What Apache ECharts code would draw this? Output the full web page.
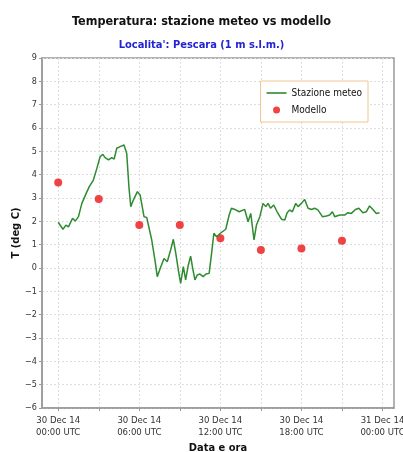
<!DOCTYPE html>
<html><head><meta charset="utf-8">
<script src="https://cdn.jsdelivr.net/npm/echarts@6/dist/echarts.min.js"></script>
<style>html,body{margin:0;padding:0;background:#fff}#c{width:403px;height:452px}</style>
</head><body><div id="c"></div>
<script>
// hours since 30 Dec 14 00:00 UTC
const stationHours = [0,0.35,0.57,0.76,1.06,1.26,1.5,1.75,2.07,2.3,2.6,2.86,3.1,3.3,3.47,3.72,3.96,4.14,4.33,4.58,4.7,4.87,5.07,5.24,5.37,5.56,5.86,6.06,6.35,6.55,6.92,7.16,7.33,7.58,7.83,8.07,8.32,8.52,8.72,8.89,9.06,9.26,9.43,9.63,9.8,9.95,10.12,10.29,10.49,10.73,10.93,11.17,11.35,11.52,11.72,12.0,12.4,12.65,12.82,13.07,13.39,13.8,14.05,14.25,14.49,14.67,14.92,15.16,15.36,15.53,15.71,15.95,16.2,16.52,16.77,16.94,17.13,17.33,17.58,17.75,18.0,18.24,18.49,18.74,18.98,19.22,19.55,19.85,20.09,20.29,20.46,20.83,21.2,21.44,21.69,22.0,22.25,22.55,22.8,23.04,23.29,23.54,23.78];
const stationTemp = [1.96,1.66,1.84,1.76,2.13,2.01,2.2,2.77,3.2,3.49,3.77,4.27,4.77,4.87,4.73,4.63,4.73,4.67,5.13,5.2,5.15,5.27,4.91,3.42,2.63,2.91,3.27,3.13,2.2,2.17,1.2,0.34,-0.37,0.03,0.41,0.27,0.77,1.23,0.56,-0.09,-0.66,0.06,-0.51,0.13,0.51,-0.01,-0.51,-0.3,-0.26,-0.37,-0.26,-0.23,0.63,1.49,1.34,1.49,1.66,2.27,2.56,2.51,2.41,2.51,1.98,2.34,1.2,1.84,2.2,2.77,2.63,2.77,2.56,2.7,2.41,2.09,2.06,2.37,2.49,2.41,2.77,2.63,2.77,2.94,2.56,2.51,2.56,2.49,2.2,2.23,2.27,2.41,2.2,2.27,2.27,2.37,2.34,2.51,2.56,2.37,2.41,2.66,2.51,2.34,2.37];
const modelHours = [0,3,6,9,12,15,18,21];
const modelTemp = [3.66,2.96,1.84,1.84,1.27,0.77,0.84,1.17];
const xLabelHours = [0,6,12,18,24];
const xLabels = ['30 Dec 14\n00:00 UTC','30 Dec 14\n06:00 UTC','30 Dec 14\n12:00 UTC','30 Dec 14\n18:00 UTC','31 Dec 14\n00:00 UTC'];
const xGridHours = [0,3,6,9,12,15,18,21,24];

const font = 'DejaVu Sans Condensed, DejaVu Sans, sans-serif';
const chart = echarts.init(document.getElementById('c'), null, {renderer:'canvas'});
chart.setOption({
  animation:false,
  backgroundColor:'#fff',
  title:[
    {text:'Temperatura: stazione meteo vs modello', left:'center', top:10, padding:[5,5,5,33],
     textStyle:{fontFamily:font,fontSize:12.5,fontWeight:'bold',color:'#111'}},
    {text:"Localita': Pescara (1 m s.l.m.)", left:'center', top:35, padding:[5,5,5,33],
     textStyle:{fontFamily:font,fontSize:11,fontWeight:'bold',color:'#2323d6'}}
  ],
  grid:{left:42,right:9,top:58,bottom:44,show:true,borderColor:'#999',borderWidth:1.5,containLabel:false,outerBoundsMode:'none'},
  legend:{
    right:35, top:81, orient:'vertical', itemGap:7,
    backgroundColor:'#fff', borderColor:'#f0c690', borderWidth:1, padding:[7,6,7,6],
    textStyle:{fontFamily:font,fontSize:10,color:'#111'},
    data:[{name:'Stazione meteo',icon:'path://M0,0L20,0L20,1.6L0,1.6Z',itemStyle:{color:'#2e8b2e'}},{name:'Modello',icon:'circle'}],
    itemWidth:20,itemHeight:7
  },
  xAxis:{
    type:'value', min:-1.2, max:24.85,
    name:'Data e ora', nameLocation:'middle', nameGap:35, nameMoveOverlap:false,
    nameTextStyle:{fontFamily:font,fontSize:11,fontWeight:'bold',color:'#111'},
    axisLine:{show:true,onZero:false,lineStyle:{color:'#999',width:1.5}},
    axisTick:{show:true,customValues:xGridHours,length:3,inside:false,lineStyle:{color:'#999'}},
    axisLabel:{customValues:xLabelHours,fontFamily:font,fontSize:9.5,color:'#333',lineHeight:12,margin:7,
      formatter:function(v){const i=xLabelHours.indexOf(Math.round(v));return i>=0?xLabels[i]:'';}},
    splitLine:{show:true,lineStyle:{color:'#ddd',type:[2,2],width:1}}
  },
  yAxis:{
    type:'value', min:-6, max:9, interval:1,
    name:'T (deg C)', nameLocation:'middle', nameGap:20, nameRotate:90, nameMoveOverlap:false,
    nameTextStyle:{fontFamily:font,fontSize:11,fontWeight:'bold',color:'#111'},
    axisLine:{show:true,onZero:false,lineStyle:{color:'#999',width:1.5}},
    axisTick:{show:true,length:3,lineStyle:{color:'#999'}},
    axisLabel:{fontFamily:font,fontSize:9,color:'#333',margin:5,
      formatter:function(v){return String(v).replace('-','\u2212');}},
    splitLine:{show:true,lineStyle:{color:'#ddd',type:[2,2],width:1}}
  },
  series:[
    {name:'Stazione meteo', type:'line', data:stationHours.map((h,i)=>[h,stationTemp[i]]),
     showSymbol:false, lineStyle:{color:'#2e8b2e',width:1.5}, itemStyle:{color:'#2e8b2e'}},
    {name:'Modello', type:'scatter', data:modelHours.map((h,i)=>[h,modelTemp[i]]),
     symbolSize:8, itemStyle:{color:'#ec1515'}}
  ]
});
</script></body></html>
